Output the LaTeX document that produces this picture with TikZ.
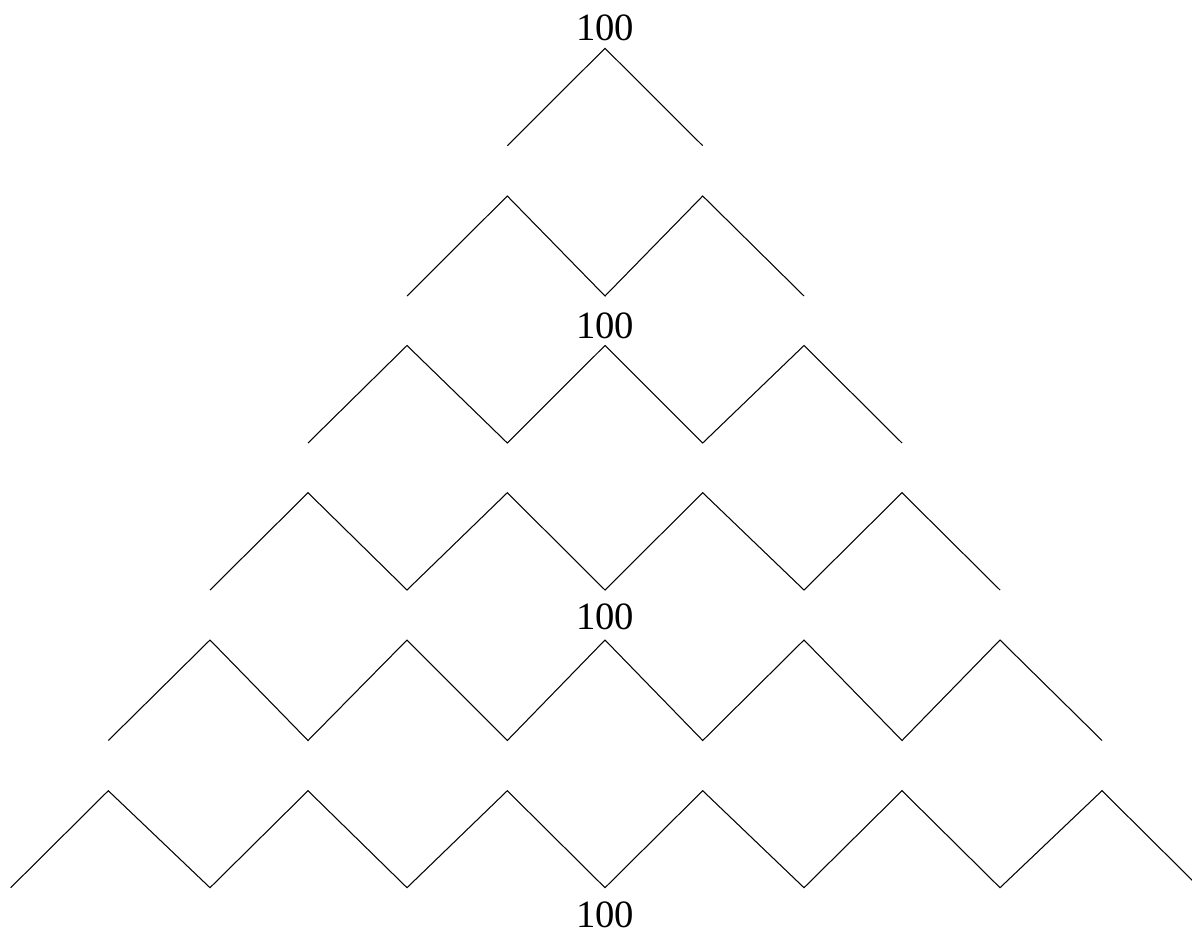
\documentclass[tikz,border=0pt]{standalone}
\usepackage{fontspec}
\setmainfont{Liberation Serif}
\begin{document}
\begin{tikzpicture}[x=0.02cm,y=-0.02cm,
  zig/.style={line width=0.6pt,line join=miter,draw=black},
  lab/.style={font=\fontsize{22}{26}\selectfont,anchor=base,inner sep=0pt}]
\useasboundingbox (0,0) rectangle (1192,933);
\clip (0,0) rectangle (1192,933);
\def\xarr{{10.7,108.3,210,308,407,507.3,605,702.7,804,902,1000,1102,1199.7}}
% named corner points of each zigzag row
\foreach \pv/\vv [count=\k] in {48.3/145.7,196/296,345.5/443,492.7/590,640/740.5,790.7/887.7}{
  \pgfmathtruncatemacro\s{6-\k}
  \pgfmathtruncatemacro\e{6+\k}
  \foreach \i in {\s,...,\e}{
    \pgfmathsetmacro\xx{\xarr[\i]}
    \pgfmathtruncatemacro\odd{mod(\i+\k,2)}
    \ifnum\odd=1
      \coordinate (z\k-\i) at (\xx,\pv);
    \else
      \coordinate (z\k-\i) at (\xx,\vv);
    \fi
  }
}
\foreach \k in {1,...,6}{
  \pgfmathtruncatemacro\s{6-\k}
  \pgfmathtruncatemacro\t{7-\k}
  \pgfmathtruncatemacro\e{6+\k}
  \draw[zig] (z\k-\s) \foreach \i in {\t,...,\e}{ -- (z\k-\i) };
}
\node[lab] (l1) at (605,40.7) {100};
\node[lab] (l2) at (605,338.3) {100};
\node[lab] (l3) at (605,629.3) {100};
\node[lab] (l4) at (605,927.5) {100};
\end{tikzpicture}
\end{document}
